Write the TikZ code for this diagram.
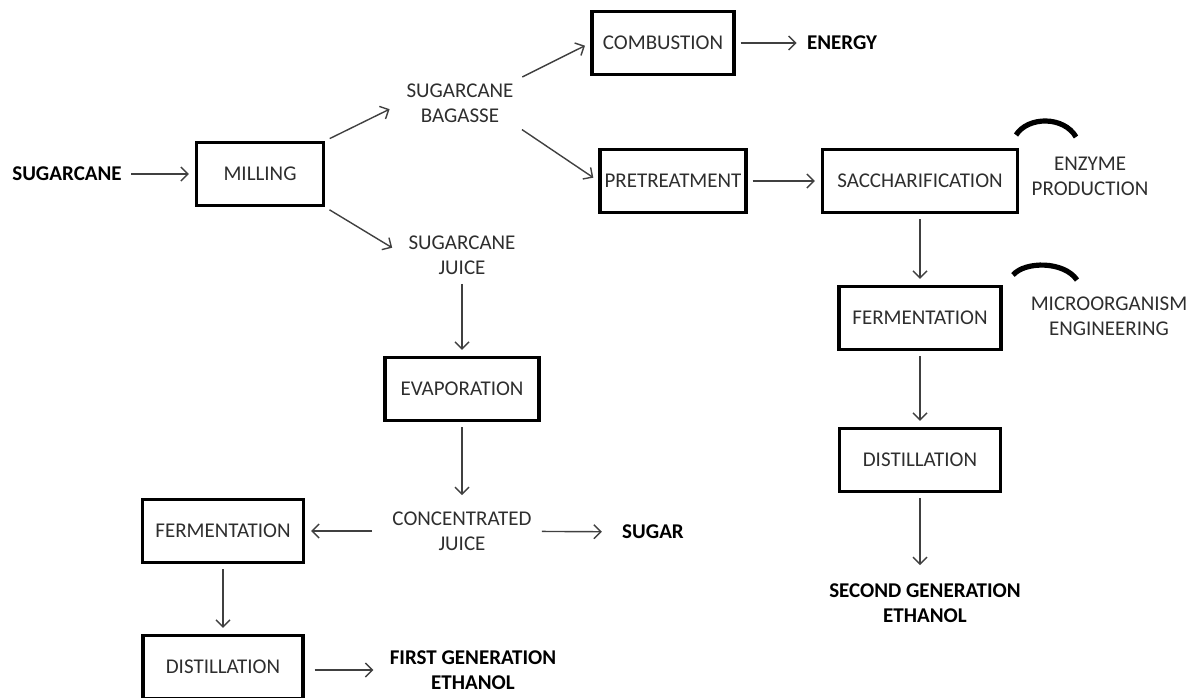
\documentclass[tikz,border=0pt]{standalone}
\usepackage{fontspec}
\setmainfont{Carlito}
\usetikzlibrary{arrows.meta}
\definecolor{inkgray}{HTML}{2E2E2E}
\definecolor{linegray}{HTML}{404040}
\begin{document}
\begin{tikzpicture}[x=0.5pt, y=-0.5pt,
    font=\fontsize{10.5}{12.5}\selectfont,
    box/.style={draw=black, line width=1.7pt, minimum height=31.5pt, text=inkgray, inner sep=2pt},
    stage/.style={align=center, text=inkgray, inner sep=2pt},
    product/.style={align=center, font=\fontsize{10.5}{12.5}\selectfont\bfseries, text=black, inner sep=2pt},
    flow/.style={draw=linegray, line width=0.7pt, -{Straight Barb[length=3.5pt,width=7pt]}, shorten <=2.5pt, shorten >=3pt},
    hook/.style={line width=2.6pt}]
        \useasboundingbox (0,0) rectangle (1198,697);
        % Milling of the cane
        \node[product] (sugarcane) at (67,174) {SUGARCANE};
        \node[box, minimum width=63.5pt] (milling) at (260,174) {MILLING};
        \node[stage] (bagasse) at (460,103) {SUGARCANE\\BAGASSE};
        \node[stage] (juice) at (462,255) {SUGARCANE\\JUICE};
    
        % Bagasse route
        \node[box, minimum width=71pt] (combustion) at (663,43) {COMBUSTION};
        \node[product] (energy) at (842,43) {ENERGY};
        \node[box, minimum width=73pt] (pretreat) at (673,181) {PRETREATMENT};
        \node[box, minimum width=97.5pt] (sacch) at (920,181) {SACCHARIFICATION};
        \node[stage] (enzyme) at (1090,176) {ENZYME\\PRODUCTION};
        \node[box, minimum width=81pt] (fermR) at (920,318) {FERMENTATION};
        \node[stage] (micro) at (1109,316) {MICROORGANISM\\ENGINEERING};
        \node[box, minimum width=80.5pt] (distR) at (920,460) {DISTILLATION};
        \node[product] (second) at (925,603) {SECOND GENERATION\\ETHANOL};
    
        % Juice route
        \node[box, minimum width=77pt] (evap) at (462,389) {EVAPORATION};
        \node[stage] (conc) at (462,531) {CONCENTRATED\\JUICE};
        \node[product] (sugar) at (653,532) {SUGAR};
        \node[box, minimum width=80.5pt] (fermL) at (223,531) {FERMENTATION};
        \node[box, minimum width=80pt] (distL) at (223,667) {DISTILLATION};
        \node[product] (first) at (473,670) {FIRST GENERATION\\ETHANOL};
    
        \draw[flow] (sugarcane) -- (milling);
        \draw[flow, shorten >=7pt] (milling.north east) -- (bagasse.west);
        \draw[flow, shorten >=7pt] (milling.south east) -- (juice.west);
        \draw[flow] (bagasse.north east) -- (combustion.west);
        \draw[flow] (bagasse.south east) -- (pretreat.west);
        \draw[flow] (combustion) -- (energy);
        \draw[flow] (pretreat) -- (sacch);
        \draw[flow] (sacch) -- (fermR);
        \draw[flow] (fermR) -- (distR);
        \draw[flow, shorten >=7pt] (distR.south) -- (distR.south |- second.north);
        \draw[flow] (juice) -- (evap);
        \draw[flow, shorten >=6pt] (evap) -- (conc);
        \draw[flow, shorten <=8pt] (conc) -- (fermL);
        \draw[flow, shorten <=3pt, shorten >=8pt] (conc) -- (sugar);
        \draw[flow] (fermL) -- (distL);
        \draw[flow, shorten <=5pt, shorten >=6pt] (distL.east |- first) -- (first);
    
        % Curved marks beside the added steps
        \draw[hook] (1016,135) .. controls (1028,116) and (1064,116) .. (1076,137);
        \draw[hook] (1013,275) .. controls (1025,261) and (1064,261) .. (1077,280);
    \end{tikzpicture}
\end{document}
